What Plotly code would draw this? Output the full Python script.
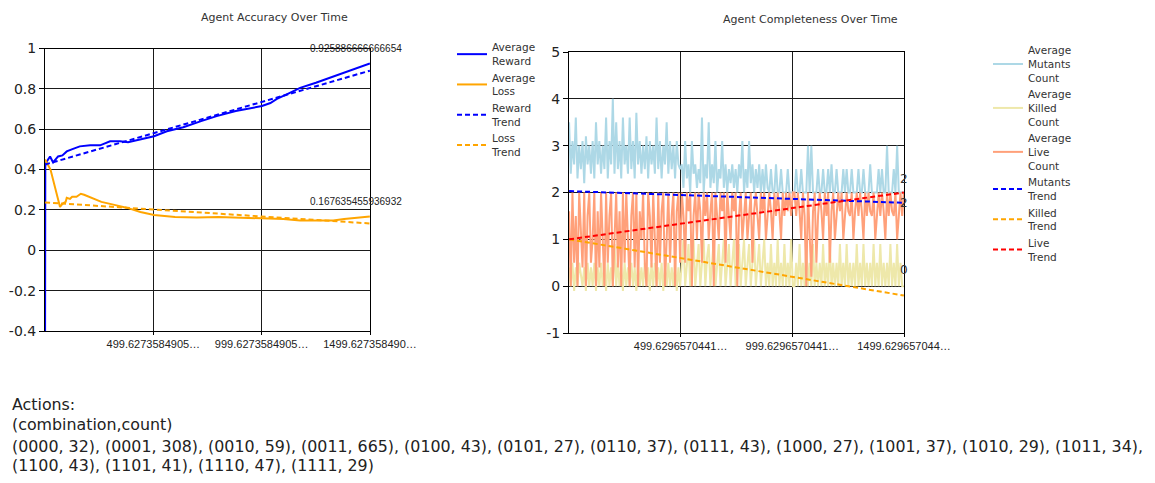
import numpy as np
import plotly.graph_objects as go

W, H = 1155, 483
OFF = 8  # page body margin of the browser

# ---------------- Left chart data ----------------
reward_steps = [0, 1, 8, 23, 37, 60, 80, 100, 123, 160, 208, 254, 300, 346, 383, 438,
                503, 562, 638, 720, 792, 880, 950, 1001, 1040, 1070, 1120, 1177, 1250,
                1330, 1420, 1499]
reward_vals = [-0.4, 0.42, 0.44, 0.465, 0.435, 0.465, 0.47, 0.49, 0.5, 0.515, 0.52, 0.52,
               0.54, 0.54, 0.535, 0.55, 0.565, 0.59, 0.61, 0.64, 0.665, 0.69, 0.705, 0.715,
               0.73, 0.75, 0.775, 0.805, 0.83, 0.86, 0.895, 0.925886666666654]

loss_steps = [0, 5, 25, 69, 80, 95, 100, 115, 125, 145, 165, 180, 215, 260, 320, 380, 440,
              503, 600, 700, 800, 900, 1001, 1100, 1177, 1250, 1330, 1380, 1430, 1499]
loss_vals = [0.45, 0.44, 0.40, 0.215, 0.23, 0.24, 0.26, 0.255, 0.265, 0.265, 0.28, 0.275,
             0.26, 0.24, 0.225, 0.21, 0.19, 0.175, 0.165, 0.163, 0.165, 0.162, 0.16, 0.155,
             0.148, 0.147, 0.148, 0.155, 0.16, 0.167635455936932]

trend_steps = [0, 1499]
reward_trend = [0.425, 0.89]
loss_trend = [0.237, 0.133]

left_tickvals = [499.6273584905, 999.6273584905, 1499.6273584905]
left_ticktext = ["499.6273584905…", "999.6273584905…", "1499.627358490…"]
left_yticks = [-0.4, -0.2, 0, 0.2, 0.4, 0.6, 0.8, 1]
left_yticktext = ["-0.4", "-0.2", "0", "0.2", "0.4", "0.6", "0.8", "1"]

# ---------------- Right chart data ----------------
mutants = [3.5, 2.4, 3.1, 2.6, 3.6, 2.3, 3.0, 2.5, 3.1, 2.2,
           3.2, 2.6, 3.0, 2.4, 3.1, 2.3, 3.5, 2.6, 3.1, 2.4,
           3.0, 2.5, 3.6, 2.3, 3.1, 2.6, 4.0, 2.4, 3.5, 2.5,
           3.1, 2.3, 3.6, 2.6, 3.0, 2.4, 3.6, 2.5, 3.1, 2.3,
           3.7, 2.6, 3.1, 2.4, 3.0, 2.5, 3.2, 2.3, 3.1, 2.6,
           3.0, 2.4, 3.6, 2.5, 3.1, 2.3, 3.0, 2.6, 3.5, 2.4,
           3.1, 2.5, 3.0, 2.3, 3.1, 2.6, 2.5,
           2.6, 2.1, 3.1, 2.3, 2.6, 2.0, 3.1, 2.4, 2.6, 2.1,
           2.5, 2.2, 3.6, 2.0, 2.6, 2.3, 3.5, 2.1, 2.6, 2.2,
           3.1, 2.0, 2.5, 2.3, 3.1, 2.1, 2.6, 2.0, 2.5, 2.2,
           2.6, 2.1, 2.5, 2.0, 2.6, 2.3, 3.1, 2.0, 2.5, 2.1,
           3.1, 2.2, 2.6, 2.0, 2.5, 2.1, 2.6, 2.0, 2.5, 2.0,
           2.6, 2.1, 2.0, 2.5, 2.0, 2.0, 2.6, 2.0, 2.0, 2.5,
           2.0, 2.0, 2.0, 2.5, 2.0, 2.0, 2.0,
           2.0, 2.5, 2.0, 2.0, 2.5, 2.0, 2.0, 2.0, 3.0, 2.0,
           3.0, 2.0, 2.0, 2.0, 2.5, 2.0, 2.0, 2.5, 2.0, 2.0,
           2.5, 2.0, 2.6, 2.0, 2.0, 2.5, 2.0, 2.0, 2.0, 2.5,
           2.0, 2.5, 2.0, 2.0, 2.5, 2.0, 2.0, 2.0, 2.5, 2.0,
           2.0, 2.5, 2.0, 2.0, 2.0, 2.6, 2.0, 2.0, 2.0, 2.0,
           2.5, 2.0, 2.5, 2.0, 2.0, 3.0, 2.0, 2.0, 2.0, 2.5,
           2.0, 3.0, 2.0, 2.0, 2.0, 2.0]

killed = [0.4, 0.0, 0.5, -0.1, 0.4, 0.0, 0.5, 0.2, 0.0, 0.4,
          -0.1, 0.5, 0.0, 0.4, 0.0, 0.5, -0.1, 0.4, 0.0, 0.5,
          0.0, 0.4, -0.1, 0.5, 0.0, 0.4, 0.0, 0.9, 0.0, 0.5,
          0.0, 0.4, -0.1, 0.5, 0.0, 0.4, 0.0, 0.5, 0.0, 0.4,
          -0.1, 0.5, 0.0, 0.4, 0.0, 0.5, 0.0, 0.4, -0.1, 0.5,
          0.0, 0.5, 0.0, 0.4, 0.0, 0.5, -0.1, 0.4, 0.0, 0.5,
          0.0, 0.4, 0.0, 0.5, -0.1, 0.4, 0.0,
          0.5, 1.0, 0.0, 0.5, 0.9, 0.0, 0.5, 1.0, 0.0, 0.5,
          0.9, 0.0, 0.5, 1.0, 0.0, 0.6, 0.9, 0.0, 0.5, 1.0,
          0.0, 0.5, 0.9, 0.0, 0.5, 1.0, 0.0, 0.5, 0.9, 0.0,
          0.5, 1.0, 0.0, 0.5, 0.9, 0.0, 0.5, 1.0, 0.0, 0.5,
          0.9, 0.0, 0.5, 1.0, 0.0, 0.5, 0.9, 0.0, 0.5, 1.0,
          0.0, 0.5, 0.0, 0.9, 0.0, 0.5, 0.0, 1.0, 0.0, 0.5,
          0.0, 0.9, 0.0, 0.5, 0.0, 1.0, 0.0,
          0.0, 0.5, 0.0, 0.9, 0.0, 0.5, 0.0, 0.9, 0.0, 0.5,
          0.0, 0.9, 0.0, 0.5, 0.0, 0.5, 0.0, 0.9, 0.0, 0.5,
          0.0, 0.9, 0.0, 0.5, 0.0, 0.5, 0.0, 0.9, 0.0, 0.5,
          0.0, 0.9, 0.0, 0.5, 0.0, 0.5, 0.0, 0.9, 0.0, 0.5,
          0.0, 0.9, 0.0, 0.5, 0.0, 0.5, 0.0, 0.9, 0.0, 0.5,
          0.0, 0.9, 0.0, 0.5, 0.0, 0.5, 0.0, 0.9, 0.0, 0.5,
          0.0, 0.9, 0.0, 0.5, 0.0, 0.0]

live = [1.6, 0.0, 2.0, 0.5, 1.5, 0.0, 2.0, 1.0, 0.4, 2.0,
        0.0, 1.5, 2.0, 0.5, 1.0, 2.0, 0.0, 1.6, 0.4, 2.0,
        1.0, 0.0, 2.0, 0.5, 1.5, 2.0, 0.0, 1.0, 2.0, 0.4,
        1.6, 0.0, 2.0, 0.5, 2.0, 1.0, 0.0, 1.5, 2.0, 0.4,
        2.0, 0.0, 1.6, 1.0, 2.0, 0.5, 0.0, 2.0, 1.5, 0.4,
        2.0, 1.0, 0.0, 2.0, 0.5, 1.6, 2.0, 0.0, 1.0, 2.0,
        0.5, 1.5, 2.0, 0.0, 1.6, 2.0, 0.5,
        2.0, 1.5, 0.5, 2.0, 1.6, 2.0, 0.0, 1.5, 2.0, 1.0,
        2.0, 1.6, 0.5, 2.0, 1.5, 2.0, 1.0, 1.6, 2.0, 0.0,
        2.0, 1.5, 1.0, 2.0, 1.6, 2.0, 0.5, 2.0, 1.5, 1.0,
        2.0, 1.6, 2.0, 0.0, 1.5, 2.0, 1.0, 1.6, 2.0, 1.0,
        1.5, 2.0, 0.5, 1.6, 2.0, 1.5, 1.0, 2.0, 1.6, 2.0,
        1.0, 1.5, 2.0, 1.6, 1.0, 2.0, 1.5, 2.0, 1.6, 1.0,
        2.0, 1.5, 2.0, 1.6, 2.0, 1.5, 2.0,
        2.0, 1.5, 2.0, 1.6, 1.0, 2.0, 1.5, 0.0, 2.0, 1.0,
        0.2, 1.6, 2.0, 0.5, 1.5, 2.0, 1.6, 1.0, 2.0, 1.5,
        2.0, 0.5, 1.6, 2.0, 1.0, 1.5, 2.0, 1.6, 2.0, 1.0,
        1.5, 2.0, 1.6, 1.5, 2.0, 1.0, 1.6, 2.0, 1.5, 2.0,
        1.6, 1.0, 2.0, 1.5, 2.0, 1.6, 1.5, 2.0, 1.0, 1.6,
        2.0, 1.5, 2.0, 1.6, 1.0, 2.0, 1.5, 2.0, 1.6, 1.5,
        2.0, 1.0, 1.6, 2.0, 1.5, 2.0]

mutants_trend = [2.03, 1.78]
killed_trend = [1.0, -0.2]
live_trend = [1.0, 2.0]

right_tickvals = [499.629657044, 999.629657044, 1499.629657044]
right_ticktext = ["499.6296570441…", "999.6296570441…", "1499.629657044…"]
right_yticks = [-1, 0, 1, 2, 3, 4, 5]
right_yticktext = ["-1", "0", "1", "2", "3", "4", "5"]

actions_lines = [
    "Actions:",
    "(combination,count)",
    "(0000, 32), (0001, 308), (0010, 59), (0011, 665), (0100, 43), (0101, 27), (0110, 37), "
    "(0111, 43), (1000, 27), (1001, 37), (1010, 29), (1011, 34),",
    "(1100, 43), (1101, 41), (1110, 47), (1111, 29)",
]

# time steps for the completeness series (one sample per step index)
steps = np.linspace(0, 1499, len(mutants))

SANS = "DejaVu Sans, Verdana, sans-serif"
ARIAL = "Liberation Sans, Arial, sans-serif"

fig = go.Figure()

# Left traces
fig.add_trace(go.Scatter(x=reward_steps, y=reward_vals, mode="lines", name="Average<br>Reward",
                         line=dict(color="#0000FF", width=2), xaxis="x", yaxis="y", legend="legend"))
fig.add_trace(go.Scatter(x=loss_steps, y=loss_vals, mode="lines", name="Average<br>Loss",
                         line=dict(color="#FFA500", width=2), xaxis="x", yaxis="y", legend="legend"))
fig.add_trace(go.Scatter(x=trend_steps, y=reward_trend, mode="lines", name="Reward<br>Trend",
                         line=dict(color="#0000FF", width=2, dash="5px,3px"), xaxis="x", yaxis="y",
                         legend="legend"))
fig.add_trace(go.Scatter(x=trend_steps, y=loss_trend, mode="lines", name="Loss<br>Trend",
                         line=dict(color="#FFA500", width=2, dash="5px,3px"), xaxis="x", yaxis="y",
                         legend="legend"))

# Right traces
fig.add_trace(go.Scatter(x=steps, y=mutants, mode="lines", name="Average<br>Mutants<br>Count",
                         line=dict(color="#ADD8E6", width=2), xaxis="x2", yaxis="y2",
                         legend="legend2"))
fig.add_trace(go.Scatter(x=steps, y=killed, mode="lines", name="Average<br>Killed<br>Count",
                         line=dict(color="#EEE8AA", width=2), xaxis="x2", yaxis="y2",
                         legend="legend2"))
fig.add_trace(go.Scatter(x=steps, y=live, mode="lines", name="Average<br>Live<br>Count",
                         line=dict(color="#FFA07A", width=2), xaxis="x2", yaxis="y2",
                         legend="legend2"))
fig.add_trace(go.Scatter(x=trend_steps, y=mutants_trend, mode="lines", name="Mutants<br>Trend",
                         line=dict(color="#0000FF", width=2, dash="5px,3px"), xaxis="x2", yaxis="y2",
                         legend="legend2"))
fig.add_trace(go.Scatter(x=trend_steps, y=killed_trend, mode="lines", name="Killed<br>Trend",
                         line=dict(color="#FFA500", width=2, dash="5px,3px"), xaxis="x2", yaxis="y2",
                         legend="legend2"))
fig.add_trace(go.Scatter(x=trend_steps, y=live_trend, mode="lines", name="Live<br>Trend",
                         line=dict(color="#FF0000", width=2, dash="5px,3px"), xaxis="x2", yaxis="y2",
                         legend="legend2"))

def px_x(p):
    return (p - OFF) / W

def px_y(p):
    return 1 - (p - OFF) / H

axis_common = dict(showgrid=True, gridcolor="#1a1a1a", gridwidth=1, showline=True,
                   linecolor="#000000", linewidth=1, mirror=True, ticks="outside",
                   tickcolor="#000000", zeroline=False, fixedrange=True, automargin=False)

fig.update_layout(
    width=W, height=H, margin=dict(l=0, r=0, t=0, b=0, autoexpand=False),
    paper_bgcolor="white", plot_bgcolor="white", showlegend=True,
    xaxis=dict(domain=[px_x(45), px_x(370)], range=[-0.3726415095, 1499.6273584905],
               tickvals=left_tickvals, ticktext=left_ticktext, ticklen=3, tickangle=0,
               tickfont=dict(family=ARIAL, size=11, color="#222"), anchor="y", **axis_common),
    yaxis=dict(domain=[px_y(331), px_y(48.5)], range=[-0.4, 1], tickvals=left_yticks,
               ticktext=left_yticktext, ticklen=5,
               tickfont=dict(family=SANS, size=14, color="#222"), anchor="x", **axis_common),
    xaxis2=dict(domain=[px_x(569), px_x(904)], range=[-0.370342956, 1499.629657044],
                tickvals=right_tickvals, ticktext=right_ticktext, ticklen=3, tickangle=0,
                tickfont=dict(family=ARIAL, size=11, color="#222"), anchor="y2", **axis_common),
    yaxis2=dict(domain=[px_y(333), px_y(52)], range=[-1, 5], tickvals=right_yticks,
                ticktext=right_yticktext, ticklen=5,
                tickfont=dict(family=SANS, size=14, color="#222"), anchor="x2", **axis_common),
    legend=dict(x=px_x(452), y=px_y(34), xanchor="left", yanchor="top", bgcolor="rgba(0,0,0,0)",
                font=dict(family=SANS, size=10.5, color="#333"), itemwidth=30, valign="middle",
                tracegroupgap=0),
    legend2=dict(x=px_x(988), y=px_y(37), xanchor="left", yanchor="top", bgcolor="rgba(0,0,0,0)",
                 font=dict(family=SANS, size=10.5, color="#333"), itemwidth=30, valign="middle",
                 tracegroupgap=0),
)

annotations = [
    dict(text="Agent Accuracy Over Time", x=px_x(274), y=px_y(17), xref="paper", yref="paper",
         xanchor="center", yanchor="middle", showarrow=False,
         font=dict(family=SANS, size=11, color="#333")),
    dict(text="Agent Completeness Over Time", x=px_x(810), y=px_y(19), xref="paper", yref="paper",
         xanchor="center", yanchor="middle", showarrow=False,
         font=dict(family=SANS, size=11, color="#333")),
    dict(text=f"{reward_vals[-1]}", x=reward_steps[-1], y=reward_vals[-1], xref="x", yref="y",
         showarrow=False, yshift=15, xshift=-14, font=dict(family=ARIAL, size=10, color="#222")),
    dict(text=f"{loss_vals[-1]}", x=loss_steps[-1], y=loss_vals[-1], xref="x", yref="y",
         showarrow=False, yshift=15, xshift=-14, font=dict(family=ARIAL, size=10, color="#222")),
    dict(text=f"{mutants[-1]:g}", x=steps[-1], y=mutants[-1], xref="x2", yref="y2",
         showarrow=False, yshift=14, font=dict(family=SANS, size=12, color="#333")),
    dict(text=f"{live[-1]:g}", x=steps[-1], y=live[-1], xref="x2", yref="y2",
         showarrow=False, yshift=-10, font=dict(family=SANS, size=12, color="#333")),
    dict(text=f"{killed[-1]:g}", x=steps[-1], y=killed[-1], xref="x2", yref="y2",
         showarrow=False, yshift=16, font=dict(family=SANS, size=12, color="#333")),
]
line_y = [404, 424, 446, 465]
for txt, yy in zip(actions_lines, line_y):
    annotations.append(dict(text=txt, x=px_x(10), y=px_y(yy), xref="paper", yref="paper",
                            xanchor="left", yanchor="middle", showarrow=False,
                            font=dict(family=SANS, size=15.85, color="#222")))
fig.update_layout(annotations=annotations)

fig.write_html("out.html")
